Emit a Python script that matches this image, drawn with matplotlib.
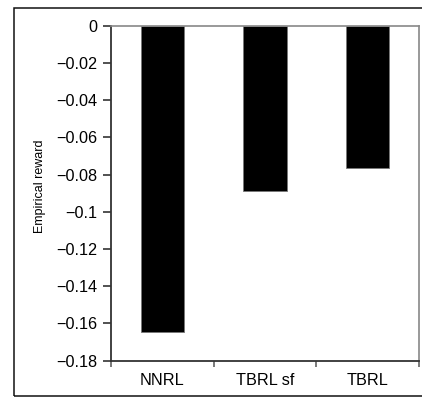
import matplotlib
matplotlib.use('Agg')
import matplotlib.pyplot as plt
from matplotlib.patches import Rectangle

# data
methods = ['NNRL', 'TBRL sf', 'TBRL']
rewards = [-0.1645, -0.089, -0.0767]
yticks = [0, -0.02, -0.04, -0.06, -0.08, -0.1, -0.12, -0.14, -0.16, -0.18]
ytick_labels = ['0', '\u22120.02', '\u22120.04', '\u22120.06', '\u22120.08', '\u22120.1',
                '\u22120.12', '\u22120.14', '\u22120.16', '\u22120.18']

plt.rcParams['font.family'] = ['Liberation Sans', 'DejaVu Sans']

fig = plt.figure(figsize=(4.22, 3.99), dpi=100)
ax = fig.add_axes([111/422, 1 - 360.7/399, (419 - 111)/422, (360.7 - 25.7)/399])

x = list(range(len(methods)))
ax.bar(x, rewards, width=0.42, color='black', edgecolor='#777777', linewidth=0.6, zorder=2)

ax.set_xlim(-0.5, len(methods) - 0.5)
ax.set_ylim(-0.18, 0)

ax.set_yticks(yticks)
ax.set_yticklabels(ytick_labels, fontsize=11.7)
ax.tick_params(axis='y', direction='out', length=6, width=1.1, color='#222222', pad=4)

ax.set_xticks(x)
ax.set_xticklabels(methods, fontsize=11.7)
ax.tick_params(axis='x', which='major', length=0, pad=9)
ax.set_xticks([-0.5, 0.5, 1.5, 2.5], minor=True)
ax.tick_params(axis='x', which='minor', direction='out', length=4, width=1.1, color='#555555')

ax.set_ylabel('Empirical reward', fontsize=9)
ax.yaxis.set_label_coords(-0.21, 0.52)

for side in ['left', 'bottom']:
    ax.spines[side].set_color('#333333')
    ax.spines[side].set_linewidth(1.3)
for side in ['top', 'right']:
    ax.spines[side].set_color('#888888')
    ax.spines[side].set_linewidth(1.2)

# outer frame around the figure, cut off on the right like the reference
frame = Rectangle((14/422, 3/399), 1.0, 388/399, transform=fig.transFigure,
                  fill=False, edgecolor='#111111', linewidth=1.1, clip_on=False)
fig.patches.append(frame)

fig.savefig('out.png', dpi=100)
